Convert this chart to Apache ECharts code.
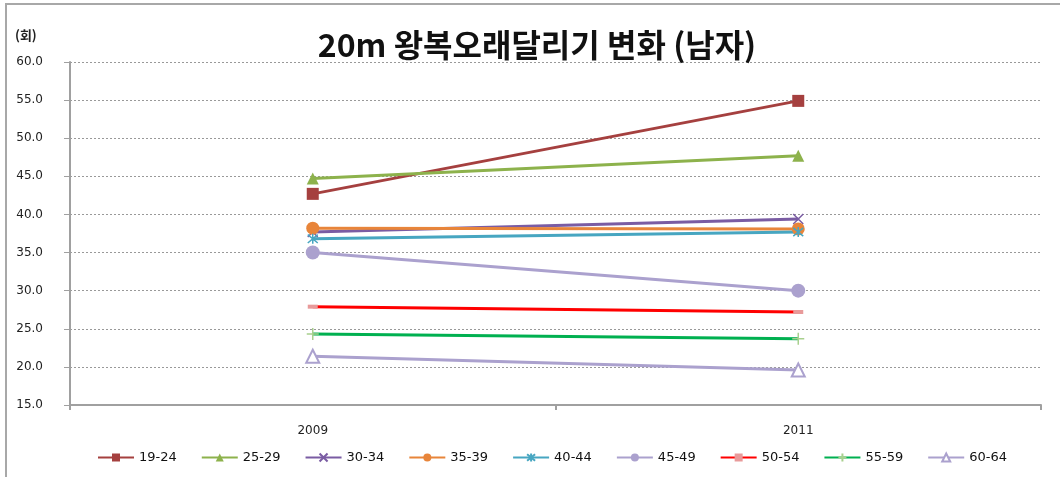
<!DOCTYPE html>
<html>
<head>
<meta charset="utf-8">
<script src="https://cdn.jsdelivr.net/npm/echarts@6/dist/echarts.min.js"></script>
<style>
html,body{margin:0;padding:0;background:#fff;}
#chart{width:1060px;height:477px;}
</style>
</head>
<body>
<div id="chart"></div>
<script>
// ---- data ----
var categories = ['2009', '2011'];
var seriesNames = ['19-24', '25-29', '30-34', '35-39', '40-44', '45-49', '50-54', '55-59', '60-64'];
var v19_24 = [42.7, 54.9];
var v25_29 = [44.7, 47.7];
var v30_34 = [37.7, 39.4];
var v35_39 = [38.2, 38.1];
var v40_44 = [36.8, 37.7];
var v45_49 = [35.0, 30.0];
var v50_54 = [27.9, 27.2];
var v55_59 = [24.3, 23.7];
var v60_64 = [21.4, 19.6];
var yTicks = [15, 20, 25, 30, 35, 40, 45, 50, 55, 60];
var titleText = '20m 왕복오래달리기 변화 (남자)';
var unitText = '(회)';

var values = [v19_24, v25_29, v30_34, v35_39, v40_44, v45_49, v50_54, v55_59, v60_64];
var colors = ['#A5403F', '#8DB24C', '#7A5CA3', '#E8853A', '#47A6C1', '#ABA1CE', '#FF0000', '#00B050', '#ABA1CE'];
var symbols = [
  'rect', 'triangle',
  'path://M0,0L10,10M10,0L0,10',
  'circle',
  'path://M0,0L10,10M10,0L0,10M5,-1L5,11',
  'circle',
  'rect',
  'path://M5,0L5,10M0,5L10,5',
  'emptyTriangle'
];
var symbolSizes = [12, 12, 10, 13, 10, 14, [10, 4], 12, 13];
var markerColors = ['#A5403F', '#8DB24C', '#7A5CA3', '#E8853A', '#47A6C1', '#ABA1CE', '#E89A9A', '#A8D08D', '#ABA1CE'];

var series = seriesNames.map(function (name, i) {
  var isPath = symbols[i].indexOf('path://') === 0;
  return {
    name: name,
    type: 'line',
    data: values[i],
    symbol: symbols[i],
    symbolSize: symbolSizes[i],
    showAllSymbol: true,
    lineStyle: { color: colors[i], width: 3 },
    itemStyle: isPath ? { color: 'rgba(0,0,0,0)', borderColor: markerColors[i], borderWidth: 1.5 }
      : (symbols[i] === 'emptyTriangle' ? { color: markerColors[i], borderColor: markerColors[i], borderWidth: 2 }
        : { color: markerColors[i], borderColor: markerColors[i], borderWidth: 0 }),
    emphasis: { disabled: true },
    animation: false
  };
});

var chart = echarts.init(document.getElementById('chart'), null, { renderer: 'canvas' });
chart.setOption({
  backgroundColor: '#fff',
  animation: false,
  title: {
    text: titleText,
    left: 532, top: 24, textAlign: 'center',
    textStyle: { fontFamily: 'Noto Sans CJK KR', fontWeight: 'bold', fontSize: 32, color: '#111' }
  },
  graphic: [
    { type: 'rect', shape: { x: 6, y: 4, width: 1100, height: 520 }, style: { fill: 'none', stroke: '#a8a8a8', lineWidth: 2 }, silent: true },
    { type: 'text', left: 15, top: 29, style: { text: unitText, font: 'bold 13px "Noto Sans CJK KR"', fill: '#222' } }
  ],
  grid: { left: 70, right: 19, top: 62, bottom: 72 },
  legend: {
    data: seriesNames,
    left: 92, top: 446,
    itemWidth: 36, itemHeight: 10, itemGap: 24,
    textStyle: { fontFamily: 'DejaVu Sans', fontSize: 13, color: '#111' }
  },
  xAxis: {
    type: 'category',
    data: categories,
    boundaryGap: true,
    axisLine: { lineStyle: { color: '#a0a0a0', width: 2 } },
    axisTick: { show: true, length: 5, lineStyle: { color: '#a0a0a0', width: 2 } },
    axisLabel: { margin: 20, fontFamily: 'DejaVu Sans', fontSize: 12, color: '#222' }
  },
  yAxis: {
    type: 'value',
    min: yTicks[0], max: yTicks[yTicks.length - 1], interval: 5,
    axisLine: { show: true, lineStyle: { color: '#a0a0a0', width: 2 } },
    axisTick: { show: true, length: 6, lineStyle: { color: '#a0a0a0', width: 1 } },
    axisLabel: { margin: 27, fontFamily: 'DejaVu Sans', fontSize: 12, color: '#222', formatter: function (v) { return v.toFixed(1); } },
    splitLine: { show: true, lineStyle: { color: '#999', type: [2, 2], width: 1 } }
  },
  series: series
});
</script>
</body>
</html>
